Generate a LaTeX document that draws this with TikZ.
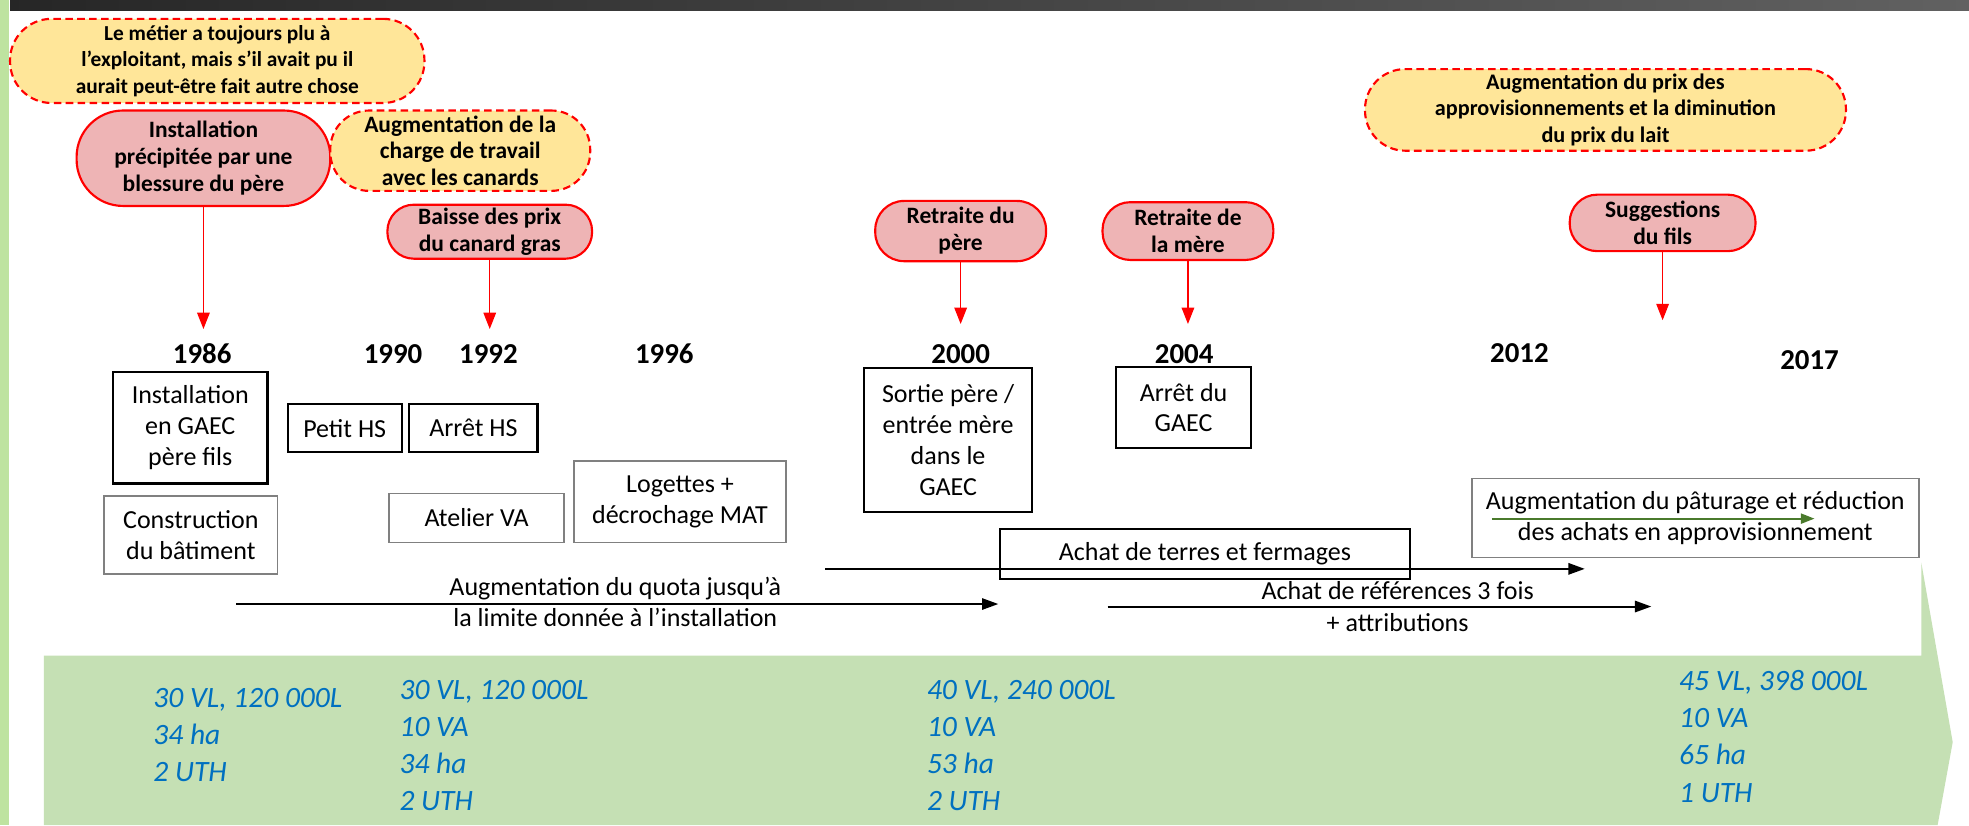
\documentclass[tikz,border=0pt]{standalone}
\usepackage{fontspec}
\setmainfont{Carlito}
\usetikzlibrary{arrows.meta,backgrounds,calc}
\definecolor{calloutyellow}{HTML}{FFE699}
\definecolor{pinkfill}{HTML}{EEB4B5}
\definecolor{bandgreen}{HTML}{C5E0B4}
\definecolor{stripgreen}{HTML}{BEE3A0}
\definecolor{valblue}{HTML}{0070C0}
\definecolor{boxgray}{HTML}{808080}
\definecolor{arrowgreen}{HTML}{4A7A2C}
\begin{document}
\begin{tikzpicture}[x=1pt,y=-1pt,
  callout/.style={draw=red, dash pattern=on 6pt off 3.5pt, line width=1.7pt, fill=calloutyellow,
    align=center, inner sep=0pt, font=\bfseries\fontsize{17.5}{21}\selectfont},
  pinkbox/.style={draw=red, line width=1.7pt, fill=pinkfill,
    align=center, inner sep=0pt, font=\bfseries\fontsize{18.7}{21.5}\selectfont},
  blackbox/.style={draw=black, line width=1.7pt, align=center, inner sep=0pt,
    font=\fontsize{20.7}{24.5}\selectfont},
  graybox/.style={draw=boxgray, line width=1.4pt, align=center, inner sep=0pt,
    font=\fontsize{20.7}{24.5}\selectfont},
  plaintxt/.style={align=center, inner sep=0pt, font=\fontsize{20.7}{25}\selectfont},
  yearlbl/.style={inner sep=0pt, font=\bfseries\fontsize{23}{26}\selectfont},
  vals/.style={anchor=west, align=left, inner sep=0pt, text=valblue,
    font=\itshape\fontsize{23.5}{29.5}\selectfont},
  redarrow/.style={draw=red, line width=1pt, -{Triangle[length=13pt,width=10pt]}},
  reddash/.style={draw=red, line width=0.9pt, dash pattern=on 3pt off 2pt},
  blackarrow/.style={draw=black, line width=1.6pt, -{Triangle[length=13pt,width=9pt]}},
  greenarrow/.style={draw=arrowgreen, line width=1.8pt, -{Triangle[length=11pt,width=8pt]}}
]
\useasboundingbox (0,0) rectangle (1568,657);
% frame elements
\fill[white] (0,0) rectangle (1568,657);
\fill[stripgreen] (0,0) rectangle (7,657);
\shade[left color=black!85, right color=black!62] (8,0) rectangle (1568,8);
\fill[bandgreen] (35,522) -- (1530,522) -- (1530,448) -- (1555,591) -- (1543,657) -- (35,657) -- cycle;

% callouts and events
\node[callout, font=\bfseries\fontsize{17}{21}\selectfont, minimum width=330pt, minimum height=67pt, rounded corners=33pt] (c1) at (173,48.5)
  {Le métier a toujours plu à\\ l’exploitant, mais s’il avait pu il\\ aurait peut-être fait autre chose};
\node[pinkbox, minimum width=202pt, minimum height=76pt, rounded corners=37pt] (pinst) at (162,126)
  {Installation\\ précipitée par une\\ blessure du père};
\node[callout, font=\bfseries\fontsize{18.7}{21}\selectfont, minimum width=207pt, minimum height=64pt, rounded corners=31pt] (c2) at (366.5,120)
  {Augmentation de la\\ charge de travail\\ avec les canards};
\node[pinkbox, minimum width=163pt, minimum height=43pt, rounded corners=21pt] (baisse) at (390,184.5)
  {Baisse des prix\\ du canard gras};
\node[pinkbox, minimum width=136pt, minimum height=48pt, rounded corners=23pt] (retp) at (765,184)
  {Retraite du\\ père};
\node[pinkbox, minimum width=136pt, minimum height=46pt, rounded corners=22pt] (retm) at (946,184)
  {Retraite de\\ la mère};
\node[callout, font=\bfseries\fontsize{17.7}{21}\selectfont, minimum width=383pt, minimum height=65pt, rounded corners=32pt] (c7) at (1278.5,87.5)
  {Augmentation du prix des\\ approvisionnements et la diminution\\ du prix du lait};
\node[pinkbox, minimum width=148pt, minimum height=45pt, rounded corners=22pt] (sugg) at (1324,177.5)
  {Suggestions\\ du fils};

% years
\node[yearlbl] (y86) at (161,282) {1986};
\node[yearlbl] (y90) at (313,282) {1990};
\node[yearlbl] (y92) at (389,282) {1992};
\node[yearlbl] (y96) at (529,282) {1996};
\node[yearlbl] (y00) at (765,282) {2000};
\node[yearlbl] (y04) at (943,282) {2004};
\node[yearlbl] (y12) at (1210,281) {2012};
\node[yearlbl] (y17) at (1441,287) {2017};

\coordinate (t86) at (162,262);
\coordinate (t92) at (390,262);
\coordinate (t00) at (765,258);
\coordinate (t04) at (946,258);
\coordinate (tsg) at (1324,255);
\coordinate (d12) at (1210,240);
\coordinate (d17) at (1425.5,240);

\begin{pgfonlayer}{background}
  \draw[reddash, -{Triangle[length=13pt,width=10pt]}] ([xshift=-138pt]c1.center) |- (t86);
  \draw[reddash, -{Triangle[length=13pt,width=10pt]}] ([xshift=-73.5pt]c2.center) |- (t92);
  \draw[reddash] ([xshift=-68.5pt]c7.center) -- (d12);
  \draw[reddash] ([xshift=147pt]c7.center) -- (d17);
\end{pgfonlayer}
\draw[redarrow] (pinst.south) -- (t86);
\draw[redarrow] (baisse.south) -- (t92);
\draw[redarrow] (retp.south) -- (t00);
\draw[redarrow] (retm.south) -- (t04);
\draw[redarrow] (sugg.south) -- (tsg);

% boxes
\node[blackbox, minimum width=123pt, minimum height=89pt] (inst) at (151.5,340.5)
  {Installation\\ en GAEC\\ père fils};
\node[graybox, minimum width=138pt, minimum height=62pt] (constr) at (152,426)
  {Construction\\ du bâtiment};
\node[blackbox, minimum width=91pt, minimum height=38pt] (petit) at (274.5,341) {Petit HS};
\node[blackbox, minimum width=102pt, minimum height=38pt] (arret) at (377,341) {Arrêt HS};
\node[graybox, minimum width=139pt, minimum height=39pt] (atelier) at (379.5,412.5) {Atelier VA};
\node[graybox, minimum width=169pt, minimum height=65pt] (loget) at (541.5,399.5)
  {Logettes +\\ décrochage MAT};
\node[blackbox, minimum width=134pt, minimum height=115pt] (sortie) at (755,350.5)
  {Sortie père /\\ entrée mère\\ dans le\\ GAEC};
\node[blackbox, minimum width=107pt, minimum height=65pt] (arretg) at (942.5,324.5)
  {Arrêt du\\ GAEC};
\node[blackbox, minimum width=327pt, minimum height=40pt] (achat) at (959.5,441)
  {Achat de terres et fermages};
\node[graybox, minimum width=356pt, minimum height=63pt] (patur) at (1350,412.5)
  {Augmentation du pâturage et réduction\\ des achats en approvisionnement};

% long arrows
\coordinate (q1) at (188,481);
\coordinate (q2) at (795,481);
\coordinate (a1) at (657,453);
\coordinate (a2) at (1262,453);
\coordinate (r1) at (882,483);
\coordinate (r2) at (1315,483);
\coordinate (g1) at (1188,413);
\coordinate (g2) at (1445,413);
\draw[blackarrow] (q1) -- (q2);
\draw[blackarrow] (a1) -- (a2);
\draw[blackarrow] (r1) -- (r2);
\draw[greenarrow] (g1) -- (g2);
\node[plaintxt] (quota) at (490,479.5)
  {Augmentation du quota jusqu’à\\ la limite donnée à l’installation};
\node[plaintxt] (refs) at (1113,483)
  {Achat de références 3 fois\\ + attributions};

% values
\node[vals] (v1) at (122,585.5) {30 VL, 120 000L\\ 34 ha\\ 2 UTH};
\node[vals] (v2) at (318,594) {30 VL, 120 000L\\ 10 VA\\ 34 ha\\ 2 UTH};
\node[vals] (v3) at (738,594) {40 VL, 240 000L\\ 10 VA\\ 53 ha\\ 2 UTH};
\node[vals] (v4) at (1337,586.5) {45 VL, 398 000L\\ 10 VA\\ 65 ha\\ 1 UTH};
\end{tikzpicture}
\end{document}
